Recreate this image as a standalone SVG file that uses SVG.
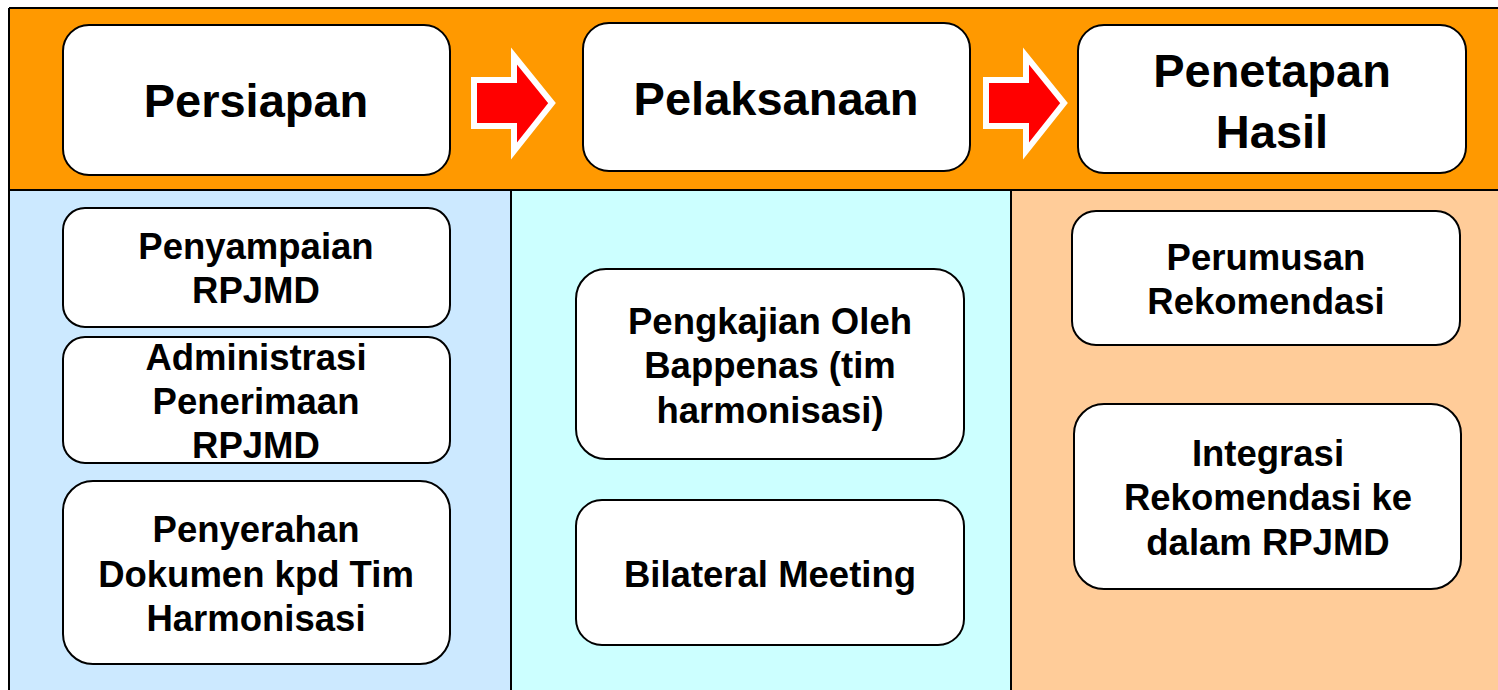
<svg xmlns="http://www.w3.org/2000/svg" width="1498" height="690" viewBox="0 0 1498 690">
<style>
.box{fill:#fff;stroke:#000;stroke-width:2}
.arrow{fill:#ff0000;stroke:#fff;stroke-width:6;stroke-linejoin:miter}
.h{font-family:"Liberation Sans",Arial,sans-serif;font-weight:bold;font-size:47px;text-anchor:middle;fill:#000}
.t{font-family:"Liberation Sans",Arial,sans-serif;font-weight:bold;font-size:36.5px;text-anchor:middle;fill:#000}
.line{stroke:#000;stroke-width:2;fill:none}
</style>
<rect width="1498" height="690" fill="#fff"/>
<g id="background">
<rect x="9" y="8" width="1495" height="690" style="fill:#ff9900"/>
<rect x="9" y="190" width="502" height="505" fill="#cce9ff"/>
<rect x="511" y="190" width="500" height="505" fill="#ccffff"/>
<rect x="1011" y="190" width="490" height="505" fill="#ffcc99"/>
<line class="line" x1="9" y1="190" x2="1498" y2="190"/>
<line class="line" x1="511" y1="190" x2="511" y2="690"/>
<line class="line" x1="1011" y1="190" x2="1011" y2="690"/>
<line class="line" x1="9" y1="8" x2="9" y2="690"/>
<line class="line" x1="9" y1="8" x2="1498" y2="8"/>
</g>
<g id="connectors">
<polygon class="arrow" points="474,80 514,80 514,56 552,103 514,151 514,126 474,126"/>
<polygon class="arrow" points="986,80 1026,80 1026,56 1064,103 1026,151 1026,126 986,126"/>
</g>
<g id="persiapan">
<rect class="box" x="63" y="25" width="387" height="150" rx="26"/>
<text class="h" x="256" y="117">Persiapan</text>
</g>
<g id="pelaksanaan">
<rect class="box" x="583" y="23" width="387" height="148" rx="26"/>
<text class="h" x="776" y="115">Pelaksanaan</text>
</g>
<g id="penetapan">
<rect class="box" x="1078" y="25" width="388" height="148" rx="26"/>
<text class="h" x="1272" y="87">Penetapan</text>
<text class="h" x="1272" y="148">Hasil</text>
</g>
<g id="penyampaian">
<rect class="box" x="63" y="208" width="387" height="119" rx="22"/>
<text class="t" x="256" y="259">Penyampaian</text>
<text class="t" x="256" y="303">RPJMD</text>
</g>
<g id="administrasi">
<rect class="box" x="63" y="337" width="387" height="126" rx="22"/>
<text class="t" x="256" y="370">Administrasi</text>
<text class="t" x="256" y="414">Penerimaan</text>
<text class="t" x="256" y="458">RPJMD</text>
</g>
<g id="penyerahan">
<rect class="box" x="63" y="481" width="387" height="183" rx="30"/>
<text class="t" x="256" y="542">Penyerahan</text>
<text class="t" x="256" y="587">Dokumen kpd Tim</text>
<text class="t" x="256" y="631">Harmonisasi</text>
</g>
<g id="pengkajian">
<rect class="box" x="576" y="269" width="388" height="190" rx="30"/>
<text class="t" x="770" y="334">Pengkajian Oleh</text>
<text class="t" x="770" y="378">Bappenas (tim</text>
<text class="t" x="770" y="423">harmonisasi)</text>
</g>
<g id="bilateral">
<rect class="box" x="576" y="500" width="388" height="145" rx="26"/>
<text class="t" x="770" y="587">Bilateral Meeting</text>
</g>
<g id="perumusan">
<rect class="box" x="1072" y="211" width="388" height="134" rx="24"/>
<text class="t" x="1266" y="270">Perumusan</text>
<text class="t" x="1266" y="314">Rekomendasi</text>
</g>
<g id="integrasi">
<rect class="box" x="1074" y="404" width="387" height="185" rx="30"/>
<text class="t" x="1268" y="466">Integrasi</text>
<text class="t" x="1268" y="510">Rekomendasi ke</text>
<text class="t" x="1268" y="555">dalam RPJMD</text>
</g>
</svg>
